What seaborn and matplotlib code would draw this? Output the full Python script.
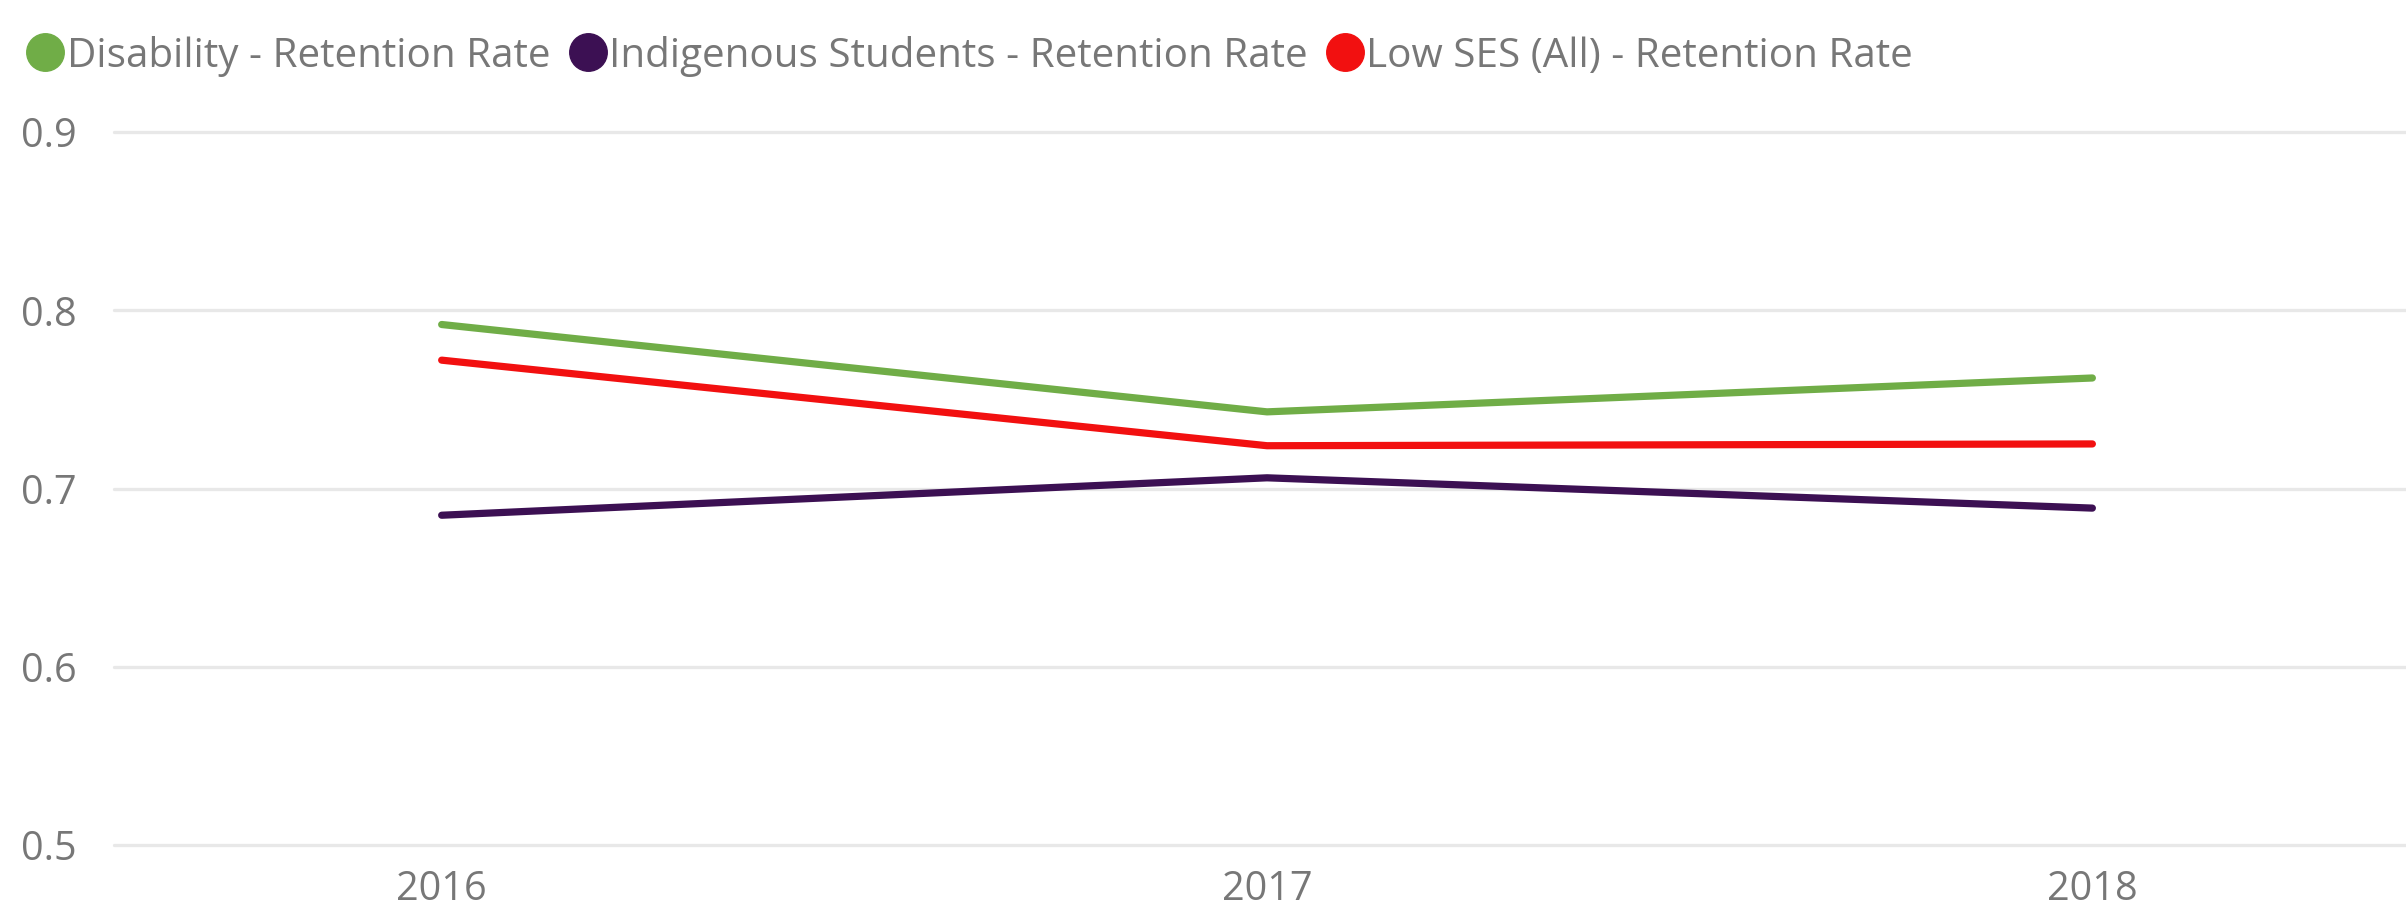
import matplotlib
matplotlib.use("Agg")
import matplotlib.pyplot as plt
from matplotlib.lines import Line2D
import pandas as pd
import seaborn as sns

########
# Data #
########

years = [2016, 2017, 2018]
series_names = [
    "Disability - Retention Rate",
    "Indigenous Students - Retention Rate",
    "Low SES (All) - Retention Rate",
]
disability = [0.792, 0.743, 0.762]
indigenous = [0.685, 0.706, 0.689]
low_ses = [0.772, 0.724, 0.725]
colours = ["#70AD47", "#3C1053", "#F21010"]
y_ticks = [0.5, 0.6, 0.7, 0.8, 0.9]

df = pd.DataFrame(
    {
        "year": years * 3,
        "rate": disability + indigenous + low_ses,
        "series": [s for s in series_names for _ in years],
    }
)

########
# Plot #
########

sns.set_theme(style="white")
plt.rcParams["font.family"] = ["Open Sans", "DejaVu Sans"]
grey = "#777777"

fig = plt.figure(figsize=(24.06, 9.09), dpi=100)
ax = fig.add_axes([114 / 2406, 1 - 845 / 909, 1 - 114 / 2406, (845 - 132) / 909])

for y in y_ticks:
    ax.axhline(y, color="#E8E8E8", lw=2.4, zorder=0)

sns.lineplot(
    data=df,
    x="year",
    y="rate",
    hue="series",
    hue_order=series_names,
    palette=colours,
    linewidth=5.2,
    legend=False,
    ax=ax,
    solid_capstyle="round",
    zorder=3,
)
for ln in ax.lines:
    ln.set_clip_on(False)

ax.set_xlim(2016 - 0.397, 2018 + 0.38)
ax.set_ylim(0.5, 0.9)
ax.set_xticks(years)
ax.set_xticklabels([str(y) for y in years])
ax.set_yticks(y_ticks)
ax.set_yticklabels([f"{v:.1f}" for v in y_ticks])
ax.tick_params(axis="both", length=0, labelsize=28.5, labelcolor=grey)
ax.tick_params(axis="y", pad=27)
ax.tick_params(axis="x", pad=18)
ax.set_xlabel("")
ax.set_ylabel("")
sns.despine(ax=ax, left=True, bottom=True)
ax.grid(False)

handles = [
    Line2D([], [], marker="o", linestyle="", markersize=27, color=c) for c in colours
]
fig.legend(
    handles,
    series_names,
    loc="upper left",
    bbox_to_anchor=(0.0, 0.992),
    ncol=3,
    frameon=False,
    fontsize=29.1,
    labelcolor=grey,
    handlelength=0.85,
    handletextpad=0.1,
    columnspacing=0.5,
    borderaxespad=0.3,
)

fig.savefig("out.png", dpi=100)
